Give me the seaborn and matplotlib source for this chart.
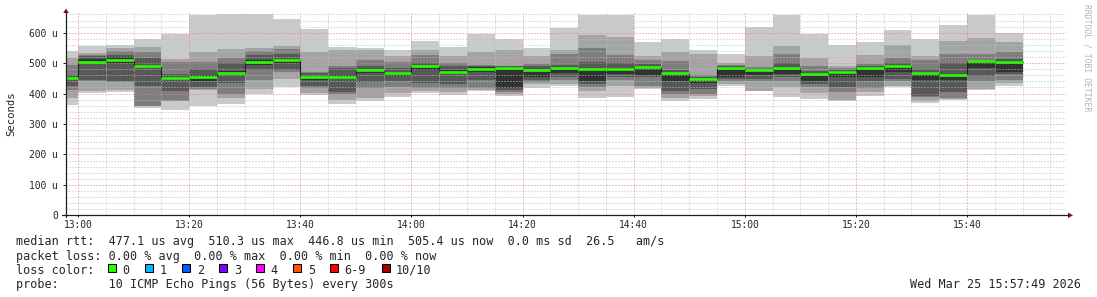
import numpy as np
import pandas as pd
import matplotlib
matplotlib.use("Agg")
import matplotlib.pyplot as plt
import matplotlib.dates as mdates
from matplotlib.ticker import MultipleLocator, FuncFormatter
from matplotlib.patches import Polygon, Rectangle
from matplotlib.lines import Line2D
import seaborn as sns

# ---------------- data ----------------
# end time of each 5-minute step (rrdtool: value covers (t-5min, t])
step_end = pd.date_range("2026-03-25 13:00", periods=35, freq="5min")
view_start = pd.Timestamp("2026-03-25 12:57:49")
view_end = pd.Timestamp("2026-03-25 15:57:49")

# median round trip time (microseconds)
median_us = [450, 505, 510, 489, 450, 456, 469, 503, 510, 453,
             455, 477, 466, 489, 472, 481, 484, 478, 485, 480,
             482, 487, 466, 447, 485, 476, 483, 465, 472, 483,
             492, 469, 461, 506, 505]

# the 10 sorted ping times of every step (microseconds)
ping1 = [361, 403, 406, 354, 346, 359, 366, 399, 421, 396, 366, 377, 388, 401, 394, 410, 393, 418,
         425, 385, 390, 415, 374, 383, 425, 409, 390, 383, 374, 393, 420, 370, 380, 412, 425]
ping2 = [385, 407, 412, 358, 374, 412, 385, 414, 447, 403, 380, 385, 402, 407, 405, 413, 398, 430,
         430, 410, 425, 418, 385, 392, 432, 410, 423, 401, 378, 405, 425, 374, 382, 414, 436]
ping3 = [412, 440, 437, 359, 375, 416, 400, 445, 470, 418, 398, 418, 422, 418, 418, 418, 405, 437,
         445, 423, 445, 425, 400, 398, 440, 440, 440, 420, 405, 418, 440, 390, 384, 440, 445]
ping4 = [425, 445, 442, 425, 407, 421, 434, 476, 478, 425, 405, 438, 440, 434, 432, 443, 412, 445,
         455, 430, 455, 455, 407, 415, 448, 448, 455, 430, 423, 440, 448, 392, 405, 458, 465]
ping5 = [445, 500, 500, 484, 443, 442, 462, 495, 502, 446, 448, 466, 458, 476, 464, 470, 418, 456,
         467, 440, 465, 461, 440, 435, 456, 460, 465, 440, 455, 456, 470, 445, 445, 483, 472]
ping6 = [455, 515, 520, 494, 455, 462, 474, 510, 515, 458, 460, 479, 470, 492, 478, 486, 486, 480,
         487, 482, 484, 490, 467, 449, 487, 478, 485, 468, 474, 486, 494, 470, 463, 508, 508]
ping7 = [462, 525, 527, 516, 465, 480, 500, 527, 530, 466, 484, 489, 485, 500, 490, 490, 490, 490,
         494, 505, 500, 498, 478, 455, 490, 480, 500, 475, 478, 490, 500, 480, 502, 510, 515]
ping8 = [494, 528, 540, 538, 505, 505, 516, 541, 547, 472, 489, 511, 505, 527, 502, 494, 491, 498,
         531, 551, 527, 511, 508, 462, 495, 486, 530, 489, 485, 497, 516, 511, 530, 530, 535]
ping9 = [518, 533, 549, 552, 515, 535, 546, 549, 558, 538, 544, 544, 522, 544, 522, 538, 542, 524,
         544, 593, 585, 524, 536, 531, 500, 522, 558, 516, 490, 527, 560, 524, 574, 584, 571]
ping10 = [541, 558, 560, 580, 596, 657, 660, 660, 646, 612, 553, 549, 542, 573, 554, 596, 581, 549,
          617, 659, 659, 568, 580, 544, 530, 620, 659, 596, 560, 569, 609, 580, 626, 659, 600]

loss_labels = ["0", "1", "2", "3", "4", "5", "6-9", "10/10"]
loss_colors = ["#26ff00", "#00b8ff", "#0059ff", "#7e00ff", "#ff00ff", "#ff5500", "#ff0000", "#a10000"]

legend_lines = [
    "median rtt:  477.1 us avg  510.3 us max  446.8 us min  505.4 us now  0.0 ms sd  26.5   am/s",
    "packet loss: 0.00 % avg  0.00 % max  0.00 % min  0.00 % now",
    "loss color:",
    "probe:       10 ICMP Echo Pings (56 Bytes) every 300s",
]
stamp = "Wed Mar 25 15:57:49 2026"

# ---------------- style ----------------
sns.set_style("white")
plt.rcParams["font.family"] = ["DejaVu Sans Mono", "DejaVu Sans"]

W, H = 1097, 297
fig = plt.figure(figsize=(W / 100, H / 100), dpi=100)
fig.patch.set_facecolor("white")


def fx(x):
    return x / W


def fy(y):
    return 1 - y / H


ax_left, ax_right, ax_bottom, ax_top = 66, 1066, 215.3, 13.1
ax = fig.add_axes([fx(ax_left), fy(ax_bottom), (ax_right - ax_left) / W, (ax_bottom - ax_top) / H])
ax.set_facecolor("white")

starts = step_end - pd.Timedelta(minutes=5)
edges = starts.append(step_end[-1:])

pings = [ping1, ping2, ping3, ping4, ping5, ping6, ping7, ping8, ping9, ping10]
half = 5
for i in range(1, half + 1):
    g = int(190 / half * (half - i)) + 50
    col = "#%02x%02x%02x" % (g, g, g)
    lo = list(pings[i - 1]) + [pings[i - 1][-1]]
    hi = list(pings[10 - i]) + [pings[10 - i][-1]]
    ax.fill_between(edges, lo, hi, step="post", color=col, lw=0, zorder=1)

# dark median step line (seaborn)
df = pd.DataFrame({"time": list(starts[:1]) + list(step_end),
                   "median": [median_us[0]] + median_us})
sns.lineplot(data=df, x="time", y="median", drawstyle="steps-pre", color="#202020",
             lw=0.8, ax=ax, zorder=3)
# loss-coloured median segments
ax.hlines(median_us, starts, step_end, colors=loss_colors[0], lw=1.9, zorder=4)

ax.set_xlim(view_start, view_end)
ax.set_ylim(0, (ax_bottom - ax_top) / 0.3043)

ax.yaxis.set_major_locator(MultipleLocator(100))
ax.yaxis.set_minor_locator(MultipleLocator(20))
ax.yaxis.set_major_formatter(FuncFormatter(lambda v, p: "0" if v == 0 else f"{int(v)} u"))
ax.xaxis.set_major_locator(mdates.MinuteLocator(byminute=range(0, 60, 20)))
ax.xaxis.set_minor_locator(mdates.MinuteLocator(byminute=range(0, 60, 5)))
ax.xaxis.set_major_formatter(mdates.DateFormatter("%H:%M"))

ax.set_axisbelow(False)
ax.grid(which="minor", color=(0.75, 0.75, 0.75, 0.75), ls=(0, (1, 2)), lw=0.72)
ax.grid(which="major", color=(0.9, 0.5, 0.5, 0.7), ls=(0, (1, 2)), lw=0.72)

for s in ax.spines.values():
    s.set_visible(False)

axis_col = (0.12, 0.12, 0.12)
ax.tick_params(axis="y", which="major", length=2.5, width=0.72, color=axis_col,
               labelsize=6.9, pad=3.2, left=True)
ax.tick_params(axis="x", which="major", length=1.6, width=0.72, color=axis_col,
               labelsize=6.9, pad=2.0, bottom=True)
ax.tick_params(which="minor", length=0, left=False, bottom=False)
ax.set_xlabel("")
ax.set_ylabel("")
if ax.get_legend() is not None:
    ax.get_legend().remove()

# axis lines with arrows
fig.add_artist(Line2D([fx(66), fx(66)], [fy(217), fy(12)], color=axis_col, lw=0.9))
fig.add_artist(Line2D([fx(62), fx(1068)], [fy(215.3), fy(215.3)], color=axis_col, lw=0.9))
arrow_col = (0.55, 0.05, 0.05)
fig.add_artist(Polygon([(fx(63.2), fy(13)), (fx(68.8), fy(13)), (fx(66), fy(8.5))],
                       closed=True, color=arrow_col, lw=0))
fig.add_artist(Polygon([(fx(1068), fy(212.5)), (fx(1068), fy(218.1)), (fx(1073), fy(215.3))],
                       closed=True, color=arrow_col, lw=0))

# y label & watermark
fig.text(fx(11), fy(114), "Seconds", rotation=90, ha="center", va="center", fontsize=7.7)
fig.text(fx(1087), fy(4), "RRDTOOL / TOBI OETIKER", rotation=270, ha="center", va="top",
         fontsize=5.9, color="#b4b4b4")

# legend block
baselines = [245.3, 259.6, 273.9, 288.2]
for txt, yb in zip(legend_lines, baselines):
    fig.text(fx(16), fy(yb), txt, ha="left", va="baseline", fontsize=8.5)
fig.text(fx(1081), fy(baselines[3]), stamp, ha="right", va="baseline", fontsize=8.5)

bx = 108.3
for lab, col in zip(loss_labels, loss_colors):
    fig.add_artist(Rectangle((fx(bx), fy(272.0)), 8 / W, 8 / H, facecolor=col,
                             edgecolor="black", lw=0.75))
    fig.text(fx(bx + 14.4), fy(baselines[2]), lab, ha="left", va="baseline", fontsize=8.5)
    bx += 37 + 7.1 * (len(lab) - 1)

fig.savefig("out.png", dpi=100, facecolor="white")
